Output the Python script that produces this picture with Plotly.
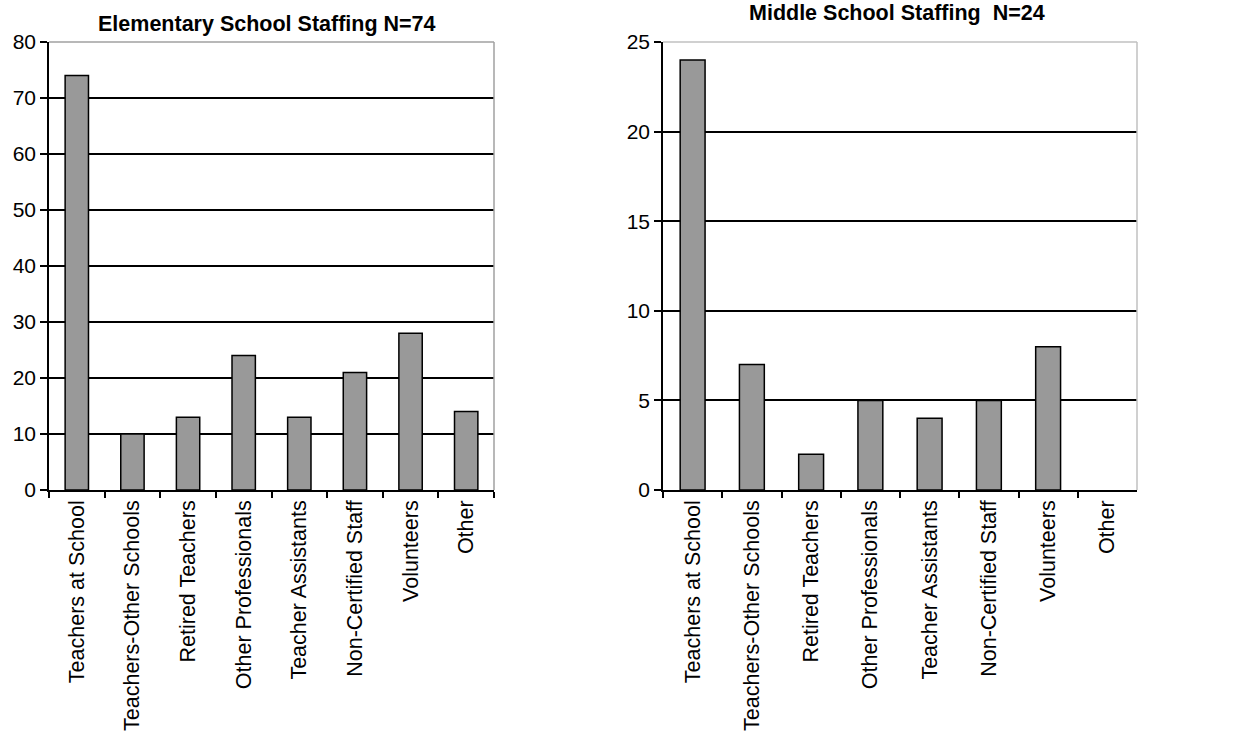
import plotly.graph_objects as go

categories = ["Teachers at School", "Teachers-Other Schools", "Retired Teachers",
              "Other Professionals", "Teacher Assistants", "Non-Certified Staff",
              "Volunteers", "Other"]
elementary_values = [74, 10, 13, 24, 13, 21, 28, 14]
middle_values = [24, 7, 2, 5, 4, 5, 8, 0]
elementary_title = "Elementary School Staffing N=74"
middle_title = "Middle School Staffing  N=24"
elementary_yticks = [0, 10, 20, 30, 40, 50, 60, 70, 80]
middle_yticks = [0, 5, 10, 15, 20, 25]

FONT = "Arial, 'Liberation Sans', sans-serif"
W, H = 1243, 736


def bar(values, xa, ya):
    return go.Bar(x=categories, y=values, xaxis=xa, yaxis=ya, showlegend=False,
                  marker=dict(color="#999999",
                              line=dict(color="black",
                                        width=[1.5 if v > 0 else 0 for v in values])))


fig = go.Figure()
fig.add_trace(bar(elementary_values, "x", "y"))
fig.add_trace(bar(middle_values, "x2", "y2"))

ydom = [(H - 490) / H, (H - 42) / H]
xdom1 = [49 / W, 494 / W]
xdom2 = [663 / W, 1137 / W]

xcommon = dict(type="category", tickangle=-90, ticks="outside", tickson="boundaries",
               ticklen=6, tickwidth=1.5, tickcolor="black", showline=True,
               linecolor="black", linewidth=1.5, showgrid=False, automargin=False,
               tickfont=dict(family=FONT, size=21.5, color="black"), fixedrange=True)
ycommon = dict(ticks="outside", ticklen=7, tickwidth=1.5, tickcolor="black",
               showline=True, linecolor="black", linewidth=1.5, showgrid=True,
               gridcolor="black", gridwidth=1.5, zeroline=False, automargin=False,
               tickfont=dict(family=FONT, size=21, color="black"), fixedrange=True)

fig.update_layout(
    width=W, height=H,
    margin=dict(l=0, r=0, t=0, b=0),
    paper_bgcolor="white", plot_bgcolor="white",
    bargap=0.58,
    xaxis=dict(domain=xdom1, anchor="y", **xcommon),
    yaxis=dict(domain=ydom, anchor="x", range=[0, 80], tickvals=elementary_yticks, **ycommon),
    xaxis2=dict(domain=xdom2, anchor="y2", **xcommon),
    yaxis2=dict(domain=ydom, anchor="x2", range=[0, 25], tickvals=middle_yticks, **ycommon),
    shapes=[
        dict(type="line", xref="x domain", yref="y domain", x0=0, x1=1, y0=1, y1=1,
             line=dict(color="#a0a0a0", width=1.5)),
        dict(type="line", xref="x domain", yref="y domain", x0=1, x1=1, y0=0, y1=1,
             line=dict(color="#a0a0a0", width=1.5)),
        dict(type="line", xref="x2 domain", yref="y2 domain", x0=0, x1=1, y0=1, y1=1,
             line=dict(color="#c0c0c0", width=1.5)),
        dict(type="line", xref="x2 domain", yref="y2 domain", x0=1, x1=1, y0=0, y1=1,
             line=dict(color="#c0c0c0", width=1.5)),
    ],
    annotations=[
        dict(text="<b>" + elementary_title + "</b>", xref="paper", yref="paper",
             x=266.5 / W, y=(H - 24.5) / H, xanchor="center", yanchor="middle",
             showarrow=False, font=dict(family=FONT, size=21.5, color="black")),
        dict(text="<b>" + middle_title.replace("  ", "&nbsp; ") + "</b>", xref="paper", yref="paper",
             x=897 / W, y=(H - 13) / H, xanchor="center", yanchor="middle",
             showarrow=False, font=dict(family=FONT, size=21.5, color="black")),
    ],
)

fig.write_html("out.html", config={"displayModeBar": False},
               post_script="document.body.style.margin='0';document.body.style.overflow='hidden';")
